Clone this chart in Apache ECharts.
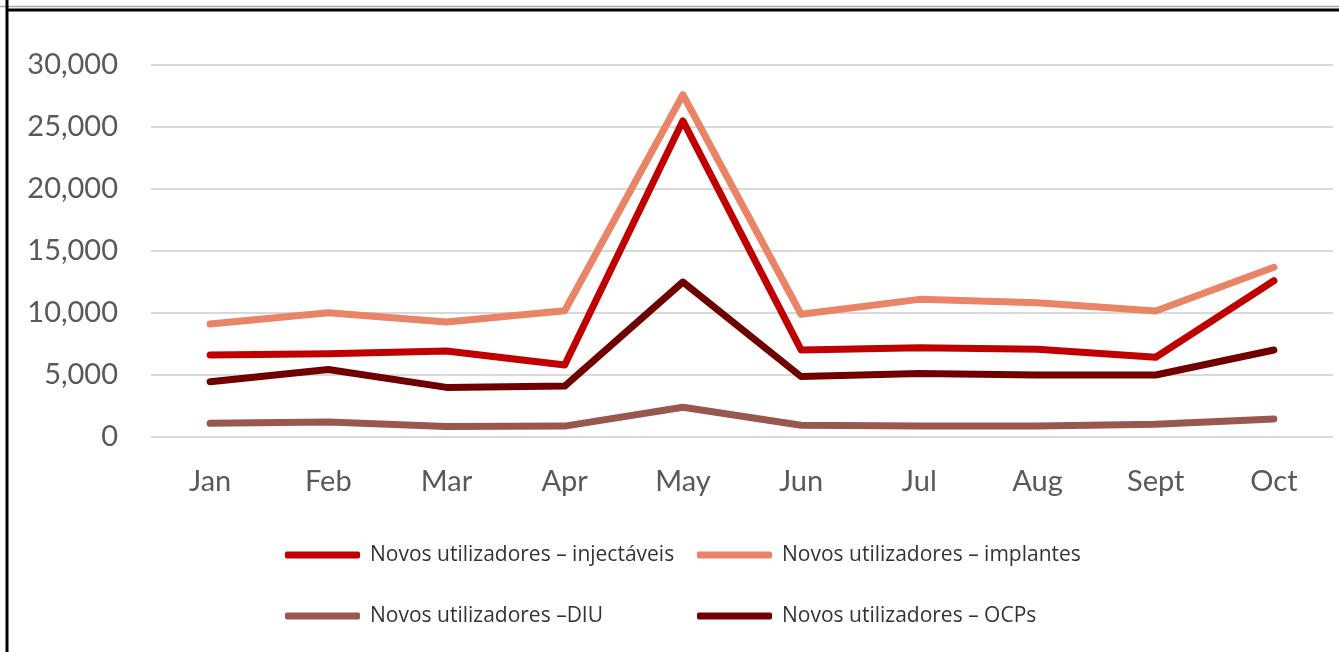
<!DOCTYPE html>
<html>
<head>
<meta charset="utf-8">
<script src="https://cdn.jsdelivr.net/npm/echarts@6/dist/echarts.min.js"></script>
<style>
html,body{margin:0;padding:0;background:#fff;}
#chart{width:1339px;height:652px;}
</style>
</head>
<body>
<div id="chart"></div>
<script>
const months = ['Jan','Feb','Mar','Apr','May','Jun','Jul','Aug','Sept','Oct'];
const injectaveis = [6610, 6720, 6930, 5810, 25500, 7020, 7200, 7070, 6430, 12600];
const implantes  = [9110, 10020, 9280, 10180, 27600, 9900, 11100, 10830, 10160, 13690];
const diu        = [1100, 1200, 850, 880, 2400, 950, 890, 890, 1030, 1460];
const ocps       = [4460, 5450, 4000, 4110, 12500, 4870, 5130, 5000, 5000, 7020];
const seriesNames = [
  'Novos utilizadores \u2013 injectáveis',
  'Novos utilizadores \u2013 implantes',
  'Novos utilizadores \u2013DIU',
  'Novos utilizadores \u2013 OCPs'
];
const seriesColors = ['#C00000', '#EA8467', '#9A5750', '#700000'];
const seriesData = [injectaveis, implantes, diu, ocps];

const chart = echarts.init(document.getElementById('chart'));
const FONT = 'Lato';
const legendCommon = {
  orient: 'vertical',
  top: 539,
  itemWidth: 75,
  itemHeight: 7,
  itemGap: 39,
  icon: 'roundRect',
  textStyle: { fontFamily: 'Open Sans', fontSize: 21, color: '#333', lineHeight: 22, padding: [0,0,0,5] },
  selectedMode: false
};
chart.setOption({
  animation: false,
  backgroundColor: '#fff',
  grid: { left: 151, right: 6, top: 65, bottom: 215 },
  legend: [
    Object.assign({ left: 280, data: [seriesNames[0], seriesNames[2]] }, legendCommon),
    Object.assign({ left: 692, data: [seriesNames[1], seriesNames[3]] }, legendCommon)
  ],
  xAxis: {
    type: 'category',
    data: months,
    boundaryGap: true,
    axisLine: { show: false },
    axisTick: { show: false },
    axisLabel: { fontFamily: FONT, fontSize: 29, color: '#595959', margin: 30 }
  },
  yAxis: {
    type: 'value',
    min: 0, max: 30000, interval: 5000,
    axisLine: { show: false },
    axisTick: { show: false },
    splitLine: { lineStyle: { color: '#d9d9d9', width: 2 } },
    axisLabel: {
      fontFamily: FONT, fontSize: 29, color: '#595959', margin: 33,
      formatter: v => v.toLocaleString('en-US')
    }
  },
  series: seriesNames.map((n, i) => ({
    name: n,
    type: 'line',
    data: seriesData[i],
    symbol: 'none',
    smooth: false,
    color: seriesColors[i],
    itemStyle: { color: seriesColors[i] },
    lineStyle: { color: seriesColors[i], width: 7, cap: 'round', join: 'round' }
  })),
  graphic: [
    { type: 'line', shape: { x1: 0, y1: 6.5, x2: 1339, y2: 6.5 }, style: { stroke: '#aaaaaa', lineWidth: 1.5 }, z: 10 },
    { type: 'line', shape: { x1: 6, y1: 10, x2: 1339, y2: 10 }, style: { stroke: '#000', lineWidth: 3 }, z: 10 },
    { type: 'line', shape: { x1: 7, y1: 0, x2: 7, y2: 652 }, style: { stroke: '#000', lineWidth: 3 }, z: 10 }
  ]
});
</script>
</body>
</html>
